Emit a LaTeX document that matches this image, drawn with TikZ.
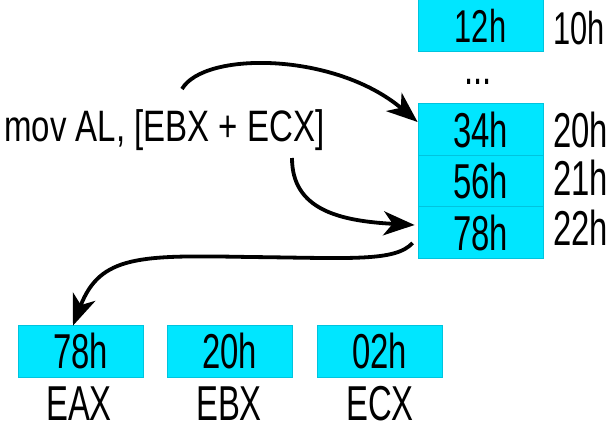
\documentclass[tikz,border=0pt]{standalone}
\usepackage{fontspec}
\setmainfont{Liberation Sans}[FakeStretch=0.75]
\newfontfamily\cellfont{Liberation Sans}[FakeStretch=0.67]
\usetikzlibrary{arrows.meta}
\definecolor{cellfill}{RGB}{0,230,255}
\definecolor{celledge}{RGB}{0,196,222}
\begin{document}
\begin{tikzpicture}[x=1pt,y=1pt,
  txt/.style={font=\cellfont\fontsize{49}{54}\selectfont, inner sep=0pt},
  toptxt/.style={font=\cellfont\fontsize{46}{50}\selectfont, inner sep=0pt},
  instrtxt/.style={font=\fontsize{44}{50}\selectfont, inner sep=0pt},
  cellbox/.style={fill=cellfill, draw=celledge, line width=0.8pt,
    minimum width=125pt, minimum height=51.5pt},
  conn/.style={line width=3.8pt, -{Stealth[length=31pt,width=24pt,inset=9pt]}}]
\useasboundingbox (0,0) rectangle (612,-426);
% memory cells
\node[toptxt, cellbox] (m12) at (480.5,-25.5) {12h};
\node[txt, anchor=base] (dots) at (478,-84) {...};
\node[txt, cellbox] (m34) at (480.5,-129.5) {34h};
\node[txt, cellbox] (m56) at (480.5,-181) {56h};
\node[txt, cellbox] (m78) at (480.5,-232.5) {78h};
% addresses
\node[toptxt, anchor=west] (a10) at (553,-28) {10h};
\node[txt, anchor=west] (a20) at (553,-130) {20h};
\node[txt, anchor=west] (a21) at (553,-177.5) {21h};
\node[txt, anchor=west] (a22) at (553,-227.5) {22h};
% instruction
\node[instrtxt, anchor=base west] (instr) at (4,-141) {mov AL, [EBX + ECX]};
% registers
\node[txt, cellbox, minimum height=52pt] (eax) at (80.5,-351) {78h};
\node[txt, cellbox, minimum height=52pt] (ebx) at (229.5,-351) {20h};
\node[txt, cellbox, minimum height=52pt] (ecx) at (379.5,-351) {02h};
\node[txt, anchor=base] (leax) at (79,-420) {EAX};
\node[txt, anchor=base] (lebx) at (229,-420) {EBX};
\node[txt, anchor=base] (lecx) at (380,-420) {ECX};
% connectors
\draw[conn] ([xshift=178pt,yshift=52pt]instr.base west)
  .. controls ++(22,38) and (335,-52) .. ([yshift=7.5pt]m34.west);
\draw[conn] ([xshift=288pt,yshift=-17pt]instr.base west)
  .. controls ++(0,-52) and (340,-221) .. ([xshift=-3pt,yshift=7.5pt]m78.west);
\draw[conn] ([xshift=-5pt,yshift=-10.5pt]m78.west)
  .. controls (395,-262) and (350,-258) .. (250,-257)
  .. controls (140,-255) and (100,-255) .. ([xshift=-7.5pt,yshift=-1pt]eax.north);
\end{tikzpicture}
\end{document}
